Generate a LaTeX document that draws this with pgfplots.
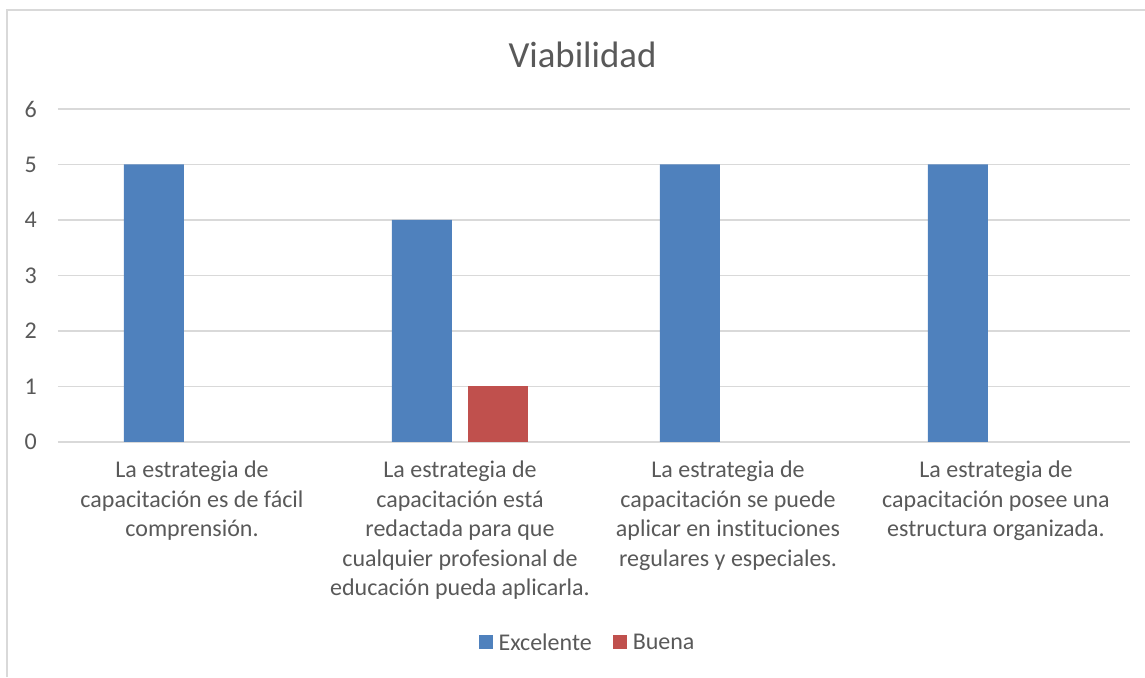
\documentclass[border=0pt]{standalone}
\usepackage{fontspec}
\setmainfont{Carlito}[Ligatures=NoCommon]
\usepackage{pgfplots}
\pgfplotsset{compat=1.18}
\definecolor{txt}{HTML}{595959}
\definecolor{gridc}{HTML}{D9D9D9}
\definecolor{exc}{HTML}{4F81BD}
\definecolor{bue}{HTML}{C0504D}
\begin{document}
\begin{tikzpicture}
\path[use as bounding box] (0pt,0pt) rectangle (1145pt,677pt);
\draw[gridc, line width=1.5pt] (7pt,0pt) -- (7pt,667pt) -- (1145pt,667pt);
\node[txt, anchor=base, font=\fontsize{36.8}{44}\selectfont, inner sep=0pt] at (582.5pt,609pt) {Viabilidad};
\begin{axis}[
  at={(58pt,235pt)}, anchor=south west,
  scale only axis, width=1072pt, height=333pt,
  ymin=0, ymax=6, ytick={0,1,...,6},
  xmin=-0.5, xmax=3.5, xtick={0,1,2,3},
  xticklabels={
    {La estrategia de\\capacitación es de fácil\\comprensión.},
    {La estrategia de\\capacitación está\\redactada para que\\cualquier profesional de\\educación pueda aplicarla.},
    {La estrategia de\\capacitación se puede\\aplicar en instituciones\\regulares y especiales.},
    {La estrategia de\\capacitación posee una\\estructura organizada.}},
  /pgf/number format/assume math mode=true,
  ybar=16pt, bar width=60pt,
  major tick length=0pt,
  axis line style={draw=none},
  ymajorgrids, grid style={gridc, line width=1.5pt},
  ticklabel style={txt, font=\fontsize{24}{29.5}\selectfont},
  yticklabel style={inner sep=0pt, anchor=east, xshift=-21pt},
  xticklabel style={align=center, anchor=north, inner sep=0pt, yshift=-19pt},
  legend columns=2,
  legend style={at={(0.4935,-0.6036)}, anchor=center, draw=none, fill=none,
    font=\fontsize{24}{29.5}\selectfont, text=txt,
    /tikz/every odd column/.append style={column sep=5pt},
    /tikz/every even column/.append style={column sep=20pt},
    nodes={inner sep=1pt}},
  legend image code/.code={\fill[#1] (0pt,-6pt) rectangle (14pt,8pt);},
]
\addplot[fill=exc, draw=none] coordinates {(0,5) (1,4) (2,5) (3,5)};
\addplot[fill=bue, draw=none] coordinates {(1,1)};
\legend{Excelente, Buena}
\end{axis}
\end{tikzpicture}
\end{document}
